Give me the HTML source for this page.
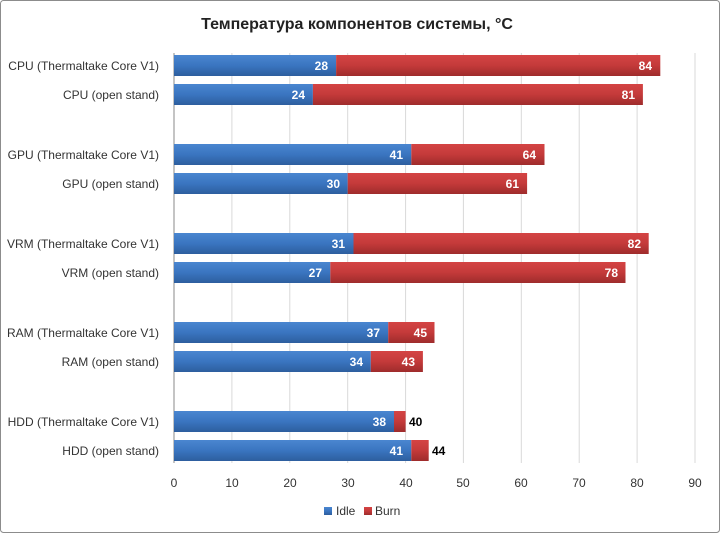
<!DOCTYPE html>
<html><head><meta charset="utf-8"><style>body{margin:0;background:#fff}svg{display:block}</style></head><body>
<svg width="720" height="533" xmlns="http://www.w3.org/2000/svg" font-family="Liberation Sans, DejaVu Sans, sans-serif">
<defs>
<linearGradient id="b" x1="0" y1="0" x2="0" y2="1"><stop offset="0" stop-color="#4a86d0"/><stop offset="0.5" stop-color="#3a75c0"/><stop offset="1" stop-color="#2d5e9e"/></linearGradient>
<linearGradient id="r" x1="0" y1="0" x2="0" y2="1"><stop offset="0" stop-color="#d44444"/><stop offset="0.5" stop-color="#c43a3a"/><stop offset="1" stop-color="#9e2c2c"/></linearGradient>
</defs>
<rect x="0.5" y="0.5" width="719" height="532" rx="3" fill="#fff" stroke="#8c8c8c"/>
<text x="357" y="29" text-anchor="middle" font-size="16" font-weight="bold" fill="#222">Температура компонентов системы, °C</text>
<g stroke="#d9d9d9" stroke-width="1">
<line x1="231.9" y1="53" x2="231.9" y2="463"/><line x1="289.8" y1="53" x2="289.8" y2="463"/><line x1="347.7" y1="53" x2="347.7" y2="463"/><line x1="405.6" y1="53" x2="405.6" y2="463"/><line x1="463.4" y1="53" x2="463.4" y2="463"/><line x1="521.3" y1="53" x2="521.3" y2="463"/><line x1="579.2" y1="53" x2="579.2" y2="463"/><line x1="637.1" y1="53" x2="637.1" y2="463"/><line x1="695" y1="53" x2="695" y2="463"/>
</g>
<line x1="174" y1="53" x2="174" y2="463" stroke="#888"/>
<g>
<rect x="174" y="55" width="162.1" height="21" fill="url(#b)"/><rect x="336.1" y="55" width="324.2" height="21" fill="url(#r)"/>
<rect x="174" y="84" width="138.9" height="21" fill="url(#b)"/><rect x="312.9" y="84" width="330" height="21" fill="url(#r)"/>
<rect x="174" y="144" width="237.3" height="21" fill="url(#b)"/><rect x="411.3" y="144" width="133.2" height="21" fill="url(#r)"/>
<rect x="174" y="173" width="173.7" height="21" fill="url(#b)"/><rect x="347.7" y="173" width="179.4" height="21" fill="url(#r)"/>
<rect x="174" y="233" width="179.5" height="21" fill="url(#b)"/><rect x="353.5" y="233" width="295.2" height="21" fill="url(#r)"/>
<rect x="174" y="262" width="156.3" height="21" fill="url(#b)"/><rect x="330.3" y="262" width="295.2" height="21" fill="url(#r)"/>
<rect x="174" y="322" width="214.2" height="21" fill="url(#b)"/><rect x="388.2" y="322" width="46.3" height="21" fill="url(#r)"/>
<rect x="174" y="351" width="196.8" height="21" fill="url(#b)"/><rect x="370.8" y="351" width="52.1" height="21" fill="url(#r)"/>
<rect x="174" y="411" width="220" height="21" fill="url(#b)"/><rect x="394" y="411" width="11.6" height="21" fill="url(#r)"/>
<rect x="174" y="440" width="237.3" height="21" fill="url(#b)"/><rect x="411.3" y="440" width="17.4" height="21" fill="url(#r)"/>
</g>
<g font-size="12" font-weight="bold" fill="#fff" text-anchor="end">
<text x="328" y="70">28</text><text x="652" y="70">84</text>
<text x="305" y="99">24</text><text x="635" y="99">81</text>
<text x="403" y="159">41</text><text x="536" y="159">64</text>
<text x="340" y="188">30</text><text x="519" y="188">61</text>
<text x="345" y="248">31</text><text x="641" y="248">82</text>
<text x="322" y="277">27</text><text x="618" y="277">78</text>
<text x="380" y="337">37</text><text x="427" y="337">45</text>
<text x="363" y="366">34</text><text x="415" y="366">43</text>
<text x="386" y="426">38</text>
<text x="403" y="455">41</text>
</g>
<g font-size="12" font-weight="bold" fill="#000">
<text x="409" y="426">40</text><text x="432" y="455">44</text>
</g>
<g font-size="12" fill="#333" text-anchor="end">
<text x="159" y="70">CPU (Thermaltake  Core V1)</text>
<text x="159" y="99">CPU (open stand)</text>
<text x="159" y="159">GPU (Thermaltake  Core V1)</text>
<text x="159" y="188">GPU (open stand)</text>
<text x="159" y="248">VRM (Thermaltake  Core V1)</text>
<text x="159" y="277">VRM (open stand)</text>
<text x="159" y="337">RAM (Thermaltake  Core V1)</text>
<text x="159" y="366">RAM (open stand)</text>
<text x="159" y="426">HDD (Thermaltake  Core V1)</text>
<text x="159" y="455">HDD (open stand)</text>
</g>
<g font-size="12" fill="#333" text-anchor="middle">
<text x="174" y="487">0</text><text x="232" y="487">10</text><text x="290" y="487">20</text><text x="348" y="487">30</text><text x="406" y="487">40</text><text x="463" y="487">50</text><text x="521" y="487">60</text><text x="579" y="487">70</text><text x="637" y="487">80</text><text x="695" y="487">90</text>
</g>
<rect x="324" y="507" width="8" height="8" fill="url(#b)"/><text x="336" y="515" font-size="12" fill="#333">Idle</text>
<rect x="364" y="507" width="8" height="8" fill="url(#r)"/><text x="375" y="515" font-size="12" fill="#333">Burn</text>
</svg>
</body></html>
